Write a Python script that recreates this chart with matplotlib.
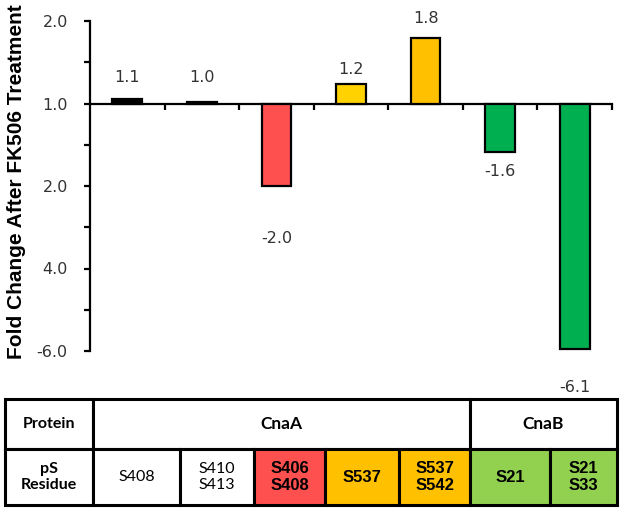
import matplotlib
matplotlib.use("Agg")
import matplotlib.pyplot as plt
from matplotlib.patches import Rectangle

# bar data (fold change labels, bar ends as read on the axis)
residues = ["S408", "S410\nS413", "S406\nS408", "S537", "S537\nS542", "S21", "S21\nS33"]
fold_change = [1.1, 1.0, -2.0, 1.2, 1.8, -1.6, -6.1]
bar_height = [0.05, 0.015, -1.0, 0.24, 0.8, -0.59, -2.97]
bar_colors = ["black", "black", "#FF5050", "#FFD200", "#FFC000", "#00B050", "#00B050"]
cell_colors = ["white", "white", "#FF5050", "#FFC000", "#FFC000", "#92D050", "#92D050"]
proteins = ["CnaA", "CnaB"]
protein_span = [5, 2]

ytick_pos = [1, 0, -1, -2, -3]
ytick_labels = ["2.0", "1.0", "2.0", "4.0", "-6.0"]

# label offsets in points from the bar end
label_offset = [16, 18, -38, 10, 14, -14, -28]

fig = plt.figure(figsize=(6.24, 5.12), dpi=100)
ax = fig.add_axes([90 / 624, 161 / 512, 522 / 624, 330 / 512])

x = list(range(len(fold_change)))
ax.bar(x, bar_height, width=0.4, color=bar_colors, edgecolor="black", linewidth=1.6, zorder=3)

for xi, h, v, off in zip(x, bar_height, fold_change, label_offset):
    ax.annotate(f"{v:.1f}", (xi, h), xytext=(0, off), textcoords="offset points",
                ha="center", va="center", fontsize=11.5, color="#333333",
                family="DejaVu Sans")

ax.set_xlim(-0.5, 6.5)
ax.set_ylim(-3, 1)
ax.spines["top"].set_visible(False)
ax.spines["right"].set_visible(False)
ax.spines["bottom"].set_position(("data", 0))
ax.spines["left"].set_linewidth(1.6)
ax.spines["bottom"].set_linewidth(1.6)

ax.set_xticks([i + 0.5 for i in x])
ax.set_xticklabels([])
ax.tick_params(axis="x", direction="out", length=4, width=1.6)
ax.set_yticks(ytick_pos)
ax.set_yticklabels(ytick_labels, fontsize=11.5, color="#333333")
ax.set_yticks([-2.5, -1.5, -0.5, 0.5], minor=True)
ax.tick_params(axis="y", which="both", direction="out", length=4, width=1.6, pad=12)

fig.text(17 / 624, 1 - 182 / 512, "Fold Change After FK506 Treatment", rotation=90,
         ha="center", va="center", fontsize=15, fontweight="bold",
         family="Liberation Sans")

# table underneath
tab = fig.add_axes([0, 0, 1, 1])
tab.set_xlim(0, 624)
tab.set_ylim(512, 0)
tab.axis("off")
tab.patch.set_alpha(0)

col_edges = [5, 93, 180, 254, 325, 399, 470, 550, 617]
row_edges = [399, 449, 505]
lw = 2.2

def cell(x0, x1, y0, y1, color, text, bold, family, size, ls=1.2):
    tab.add_patch(Rectangle((x0, y0), x1 - x0, y1 - y0, facecolor=color,
                            edgecolor="black", linewidth=lw))
    tab.text((x0 + x1) / 2, (y0 + y1) / 2, text, ha="center", va="center",
             fontsize=size, fontweight="bold" if bold else "normal",
             family=family, linespacing=ls, color="black")

cell(col_edges[0], col_edges[1], row_edges[0], row_edges[1], "white", "Protein", True, "Lato", 11.5)
cell(col_edges[0], col_edges[1], row_edges[1], row_edges[2], "white", "pS\nResidue", True, "Lato", 11.5, 1.25)

start = 1
for name, span in zip(proteins, protein_span):
    cell(col_edges[start], col_edges[start + span], row_edges[0], row_edges[1],
         "white", name, True, "Lato", 12.5)
    start += span

for i, (res, c) in enumerate(zip(residues, cell_colors)):
    plain = c == "white"
    cell(col_edges[i + 1], col_edges[i + 2], row_edges[1], row_edges[2], c, res,
         not plain, "Lato" if plain else "Liberation Sans",
         11.5 if plain else 12, 1.2)

fig.savefig("out.png", dpi=100)
